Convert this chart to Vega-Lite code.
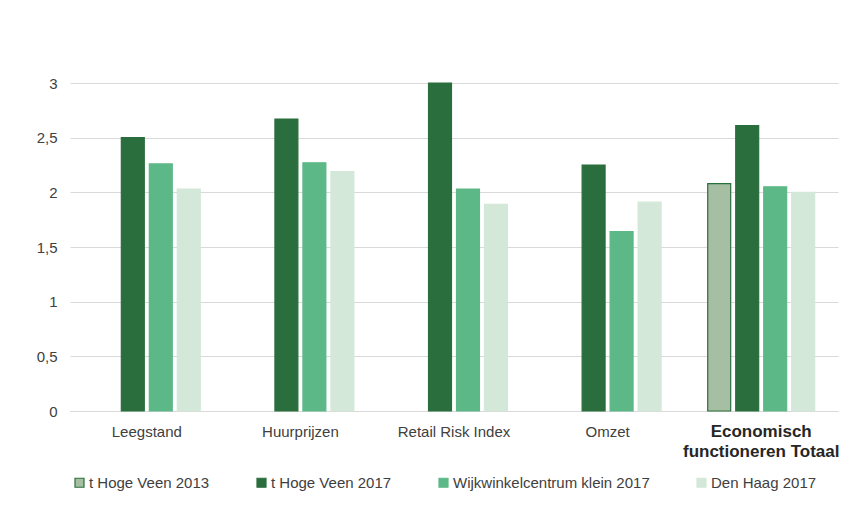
{
  "$schema": "https://vega.github.io/schema/vega-lite/v6.json",
  "autosize": "none",
  "width": 768,
  "height": 328,
  "padding": {"left": 70, "top": 83, "right": 30, "bottom": 95},
  "background": "white",
  "data": {
    "values": [
      {"categorie": "Leegstand", "reeks": "t Hoge Veen 2017", "score": 2.50},
      {"categorie": "Leegstand", "reeks": "Wijkwinkelcentrum klein 2017", "score": 2.26},
      {"categorie": "Leegstand", "reeks": "Den Haag 2017", "score": 2.03},
      {"categorie": "Huurprijzen", "reeks": "t Hoge Veen 2017", "score": 2.67},
      {"categorie": "Huurprijzen", "reeks": "Wijkwinkelcentrum klein 2017", "score": 2.27},
      {"categorie": "Huurprijzen", "reeks": "Den Haag 2017", "score": 2.19},
      {"categorie": "Retail Risk Index", "reeks": "t Hoge Veen 2017", "score": 3.00},
      {"categorie": "Retail Risk Index", "reeks": "Wijkwinkelcentrum klein 2017", "score": 2.03},
      {"categorie": "Retail Risk Index", "reeks": "Den Haag 2017", "score": 1.89},
      {"categorie": "Omzet", "reeks": "t Hoge Veen 2017", "score": 2.25},
      {"categorie": "Omzet", "reeks": "Wijkwinkelcentrum klein 2017", "score": 1.64},
      {"categorie": "Omzet", "reeks": "Den Haag 2017", "score": 1.91},
      {"categorie": "Economisch functioneren Totaal", "reeks": "t Hoge Veen 2013", "score": 2.08},
      {"categorie": "Economisch functioneren Totaal", "reeks": "t Hoge Veen 2017", "score": 2.61},
      {"categorie": "Economisch functioneren Totaal", "reeks": "Wijkwinkelcentrum klein 2017", "score": 2.05},
      {"categorie": "Economisch functioneren Totaal", "reeks": "Den Haag 2017", "score": 2.00}
    ]
  },
  "mark": {"type": "bar", "strokeWidth": 1.2},
  "encoding": {
    "x": {
      "field": "categorie",
      "type": "nominal",
      "sort": ["Leegstand", "Huurprijzen", "Retail Risk Index", "Omzet", "Economisch functioneren Totaal"],
      "title": null,
      "scale": {"paddingInner": 0.271, "paddingOuter": 0.1355},
      "axis": {
        "labelAngle": 0,
        "ticks": false,
        "domainColor": "#d9d9d9",
        "domainWidth": 1,
        "labelPadding": 20,
        "labelBaseline": "middle",
        "labelLineHeight": 20,
        "labelFont": "Liberation Sans",
        "labelColor": {"condition": {"test": "datum.value == 'Economisch functioneren Totaal'", "value": "#262626"}, "value": "#404040"},
        "labelFontSize": {"condition": {"test": "datum.value == 'Economisch functioneren Totaal'", "value": 17}, "value": 15},
        "labelFontWeight": {"condition": {"test": "datum.value == 'Economisch functioneren Totaal'", "value": "bold"}, "value": "normal"},
        "labelExpr": "datum.value == 'Economisch functioneren Totaal' ? ['Economisch', 'functioneren Totaal'] : datum.value",
        "labelLimit": 300
      }
    },
    "xOffset": {
      "field": "reeks",
      "type": "nominal",
      "sort": ["t Hoge Veen 2013", "t Hoge Veen 2017", "Wijkwinkelcentrum klein 2017", "Den Haag 2017"],
      "scale": {"domain": ["t Hoge Veen 2013", "t Hoge Veen 2017", "Wijkwinkelcentrum klein 2017", "Den Haag 2017"], "paddingInner": 0.18, "paddingOuter": 0.09}
    },
    "y": {
      "field": "score",
      "type": "quantitative",
      "title": null,
      "scale": {"domain": [0, 3], "nice": false},
      "axis": {
        "values": [0, 0.5, 1, 1.5, 2, 2.5, 3],
        "labelExpr": "replace(format(datum.value, '~g'), '.', ',')",
        "domain": false,
        "ticks": false,
        "gridColor": "#d9d9d9",
        "gridWidth": 1,
        "labelPadding": 13,
        "labelFont": "Liberation Sans",
        "labelFontSize": 15,
        "labelColor": "#404040"
      }
    },
    "color": {
      "field": "reeks",
      "type": "nominal",
      "title": null,
      "scale": {
        "domain": ["t Hoge Veen 2013", "t Hoge Veen 2017", "Wijkwinkelcentrum klein 2017", "Den Haag 2017"],
        "range": ["#a6bea2", "#2b6e3e", "#5db887", "#d3e8d8"]
      },
      "legend": {
        "orient": "none",
        "legendX": 2,
        "legendY": 392,
        "direction": "horizontal",
        "columns": 4,
        "columnPadding": 44,
        "symbolType": "square",
        "symbolSize": 81,
        "symbolStrokeWidth": 1.2,
        "labelFont": "Liberation Sans",
        "labelFontSize": 15,
        "labelColor": "#404040",
        "labelOffset": 2,
        "labelLimit": 400
      }
    },
    "stroke": {
      "field": "reeks",
      "type": "nominal",
      "title": null,
      "scale": {
        "domain": ["t Hoge Veen 2013", "t Hoge Veen 2017", "Wijkwinkelcentrum klein 2017", "Den Haag 2017"],
        "range": ["#2b6e3e", "#2b6e3e", "#5db887", "#d3e8d8"]
      }
    }
  },
  "config": {
    "view": {"stroke": null}
  }
}
